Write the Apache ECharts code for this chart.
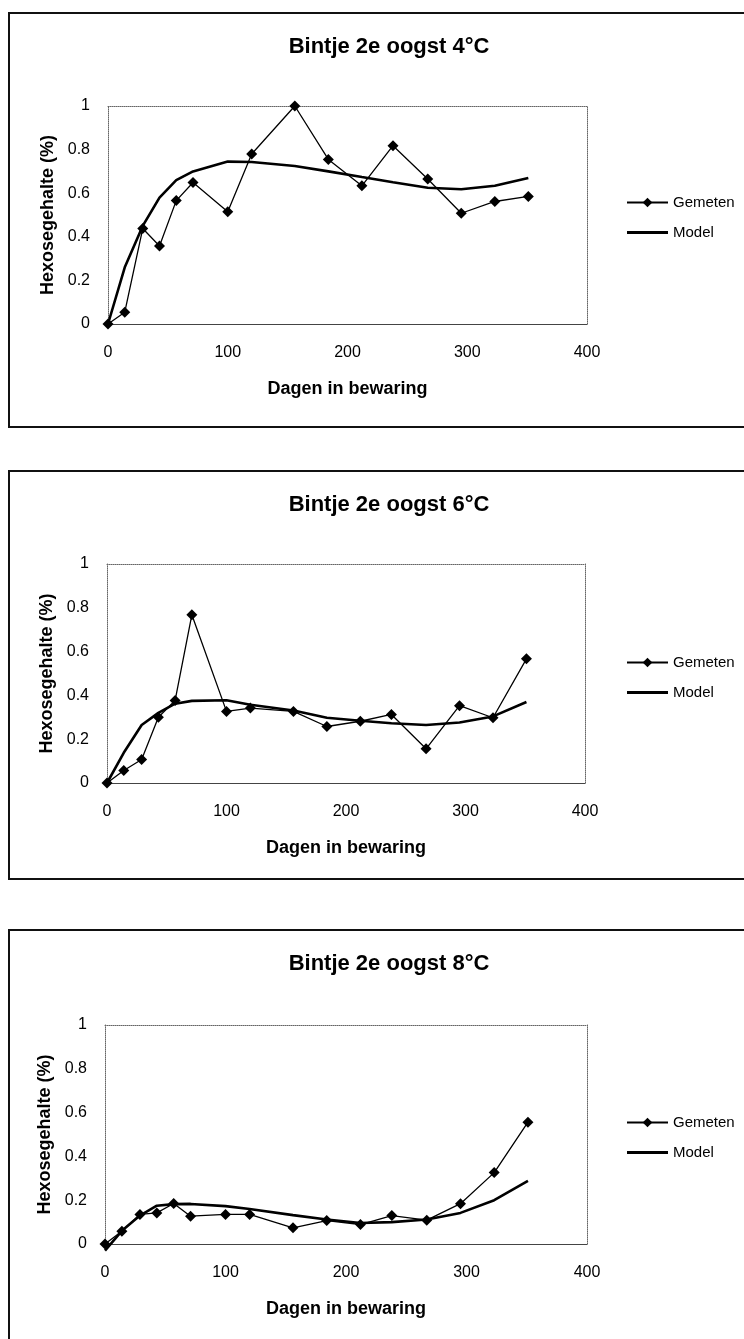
<!DOCTYPE html>
<html>
<head>
<meta charset="utf-8">
<script src="https://cdn.jsdelivr.net/npm/echarts@6/dist/echarts.min.js"></script>
<style>
  html, body { margin: 0; padding: 0; background: #fff; }
  #chart { width: 744px; height: 1339px; }
</style>
</head>
<body>
<div id="chart"></div>
<script>
// storage days (shared by all three trials)
const days = [0, 14, 29, 43, 57, 71, 100, 120, 156, 184, 212, 238, 267, 295, 323, 351];

const titles = ['Bintje 2e oogst 4°C', 'Bintje 2e oogst 6°C', 'Bintje 2e oogst 8°C'];

// measured hexose content (%)
const gemeten4 = [0, 0.054, 0.438, 0.358, 0.566, 0.649, 0.515, 0.78, 1.0, 0.755, 0.634, 0.818, 0.665, 0.508, 0.562, 0.585];
const gemeten6 = [0, 0.057, 0.107, 0.30, 0.377, 0.768, 0.327, 0.342, 0.327, 0.258, 0.282, 0.313, 0.156, 0.353, 0.298, 0.567];
const gemeten8 = [0, 0.058, 0.135, 0.142, 0.185, 0.127, 0.135, 0.135, 0.074, 0.107, 0.089, 0.13, 0.109, 0.184, 0.326, 0.556];

// model curve
const model4 = [0, 0.26, 0.45, 0.58, 0.66, 0.70, 0.745, 0.743, 0.725, 0.70, 0.674, 0.65, 0.625, 0.618, 0.634, 0.67];
const model6 = [0, 0.138, 0.265, 0.32, 0.362, 0.375, 0.378, 0.357, 0.331, 0.298, 0.284, 0.273, 0.265, 0.276, 0.304, 0.37];
const model8 = [-0.03, 0.06, 0.13, 0.175, 0.182, 0.183, 0.173, 0.16, 0.132, 0.112, 0.096, 0.1, 0.112, 0.142, 0.2, 0.288];

const xTicks = [0, 100, 200, 300, 400];
const yTicks = [0, 0.2, 0.4, 0.6, 0.8, 1];

const gemeten = [gemeten4, gemeten6, gemeten8];
const model = [model4, model6, model8];

const FONT = "'Liberation Sans', Arial, sans-serif";

// panel layout: box top/bottom, plot area
const panels = [
  { boxTop: 13, boxH: 414, gridTop: 106, gridLeft: 108, gridW: 479, gridH: 218, legTop: 190 },
  { boxTop: 471, boxH: 408, gridTop: 564, gridLeft: 107, gridW: 478, gridH: 219, legTop: 650 },
  { boxTop: 930, boxH: 500, gridTop: 1025, gridLeft: 105, gridW: 482, gridH: 219, legTop: 1110 }
];

const pairs = arr => days.map((d, i) => [d, arr[i]]);

const option = {
  animation: false,
  backgroundColor: '#fff',
  textStyle: { fontFamily: FONT, color: '#000' },
  title: [], legend: [], grid: [], xAxis: [], yAxis: [], series: [],
  graphic: []
};

panels.forEach((p, k) => {
  option.graphic.push({
    type: 'rect',
    shape: { x: 9, y: p.boxTop, width: 800, height: p.boxH },
    style: { fill: 'none', stroke: '#111', lineWidth: 2 },
    silent: true
  });
  option.title.push({
    text: titles[k],
    left: 384, textAlign: 'center',
    top: p.boxTop + 18,
    textStyle: { fontFamily: FONT, fontSize: 22, fontWeight: 'bold', color: '#000' }
  });
  option.grid.push({ left: p.gridLeft, top: p.gridTop, width: p.gridW, height: p.gridH });

  const gemName = 'Gemeten' + (k ? ' '.repeat(k) : '');
  const modName = 'Model' + (k ? ' '.repeat(k) : '');
  option.legend.push({
    orient: 'vertical',
    left: 621, top: p.legTop,
    itemWidth: 41, itemHeight: 12, itemGap: 15,
    symbolKeepAspect: true,
    data: [
      { name: gemName },
      { name: modName, icon: 'path://M0,0L40,0L40,3L0,3Z' }
    ],
    textStyle: { fontFamily: FONT, fontSize: 15, color: '#000' },
    formatter: n => n.trim()
  });

  // bottom axis
  option.xAxis.push({
    gridIndex: k, type: 'value', min: 0, max: 400, interval: 100,
    name: 'Dagen in bewaring', nameLocation: 'middle', nameGap: 56,
    nameTextStyle: { fontFamily: FONT, fontSize: 18, fontWeight: 'bold', color: '#000' },
    axisLine: { show: true, onZero: false, lineStyle: { color: '#444', width: 1 } },
    axisTick: { show: false },
    axisLabel: { fontFamily: FONT, fontSize: 16, color: '#000', margin: 21,
      customValues: xTicks },
    splitLine: { show: false }
  });
  // top border
  option.xAxis.push({
    gridIndex: k, type: 'value', min: 0, max: 400, position: 'top',
    axisLine: { show: true, onZero: false, lineStyle: { color: '#666', type: 'dotted', width: 1 } },
    axisTick: { show: false }, axisLabel: { show: false }, splitLine: { show: false }
  });
  // left axis
  option.yAxis.push({
    gridIndex: k, type: 'value', min: 0, max: 1, interval: 0.2,
    name: 'Hexosegehalte (%)', nameLocation: 'middle', nameGap: 50,
    nameTextStyle: { fontFamily: FONT, fontSize: 18, fontWeight: 'bold', color: '#000' },
    axisLine: { show: true, onZero: false, lineStyle: { color: '#666', type: 'dotted', width: 1 } },
    axisTick: { show: false },
    axisLabel: { fontFamily: FONT, fontSize: 16, color: '#000', margin: 18,
      customValues: yTicks },
    splitLine: { show: false }
  });
  // right border
  option.yAxis.push({
    gridIndex: k, type: 'value', min: 0, max: 1, position: 'right',
    axisLine: { show: true, onZero: false, lineStyle: { color: '#666', type: 'dotted', width: 1 } },
    axisTick: { show: false }, axisLabel: { show: false }, splitLine: { show: false }
  });

  option.series.push({
    name: gemName, type: 'line',
    xAxisIndex: 2 * k, yAxisIndex: 2 * k,
    data: pairs(gemeten[k]),
    symbol: 'diamond', symbolSize: 11, showSymbol: true,
    lineStyle: { color: '#000', width: 1.3 },
    itemStyle: { color: '#000' },
    clip: false, z: 3
  });
  option.series.push({
    name: modName, type: 'line',
    xAxisIndex: 2 * k, yAxisIndex: 2 * k,
    data: pairs(model[k]),
    symbol: 'none',
    lineStyle: { color: '#000', width: 2.6 },
    itemStyle: { color: '#000' },
    clip: false, z: 2
  });
});

const chart = echarts.init(document.getElementById('chart'), null, { renderer: 'canvas' });
chart.setOption(option);
</script>
</body>
</html>
